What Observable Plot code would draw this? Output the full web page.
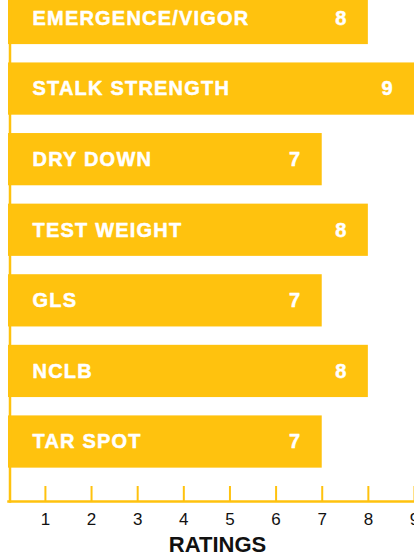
<!DOCTYPE html>
<html>
<head>
<meta charset="utf-8">
<script src="https://cdn.jsdelivr.net/npm/d3@7"></script>
<script src="https://cdn.jsdelivr.net/npm/@observablehq/plot@0.6"></script>
<style>
  html, body { margin: 0; padding: 0; background: #fff; }
</style>
</head>
<body>
<div id="chart"></div>
<script>
const categories = ["EMERGENCE/VIGOR", "STALK STRENGTH", "DRY DOWN", "TEST WEIGHT", "GLS", "NCLB", "TAR SPOT"];
const ratings = [8, 9, 7, 8, 7, 8, 7];
const tickValues = [1, 2, 3, 4, 5, 6, 7, 8, 9];
const axisTitle = "RATINGS";

const data = categories.map((trait, i) => ({trait, rating: ratings[i]}));
const yellow = "#FFC20E";

const chart = Plot.plot({
  width: 414,
  height: 556,
  marginLeft: 8,
  marginRight: 0,
  marginTop: 0,
  marginBottom: 55,
  style: {fontFamily: "'Liberation Sans', Arial, sans-serif", background: "#fff", color: "#000"},
  x: {domain: [0.2, 9], range: [8, 414], axis: null},
  y: {domain: categories, range: [-26.5, 486], padding: 0.26, round: false, axis: null},
  marks: [
    Plot.barX(data, {x: "rating", y: "trait", fill: yellow, clip: true}),
    Plot.frame({anchor: "left", stroke: yellow, strokeWidth: 2.5, dx: 1.5}),
    Plot.frame({anchor: "bottom", stroke: yellow, strokeWidth: 2.5}),
    Plot.axisX(tickValues, {anchor: "bottom", tickSize: -15, tickPadding: 26, stroke: yellow, strokeWidth: 2, fill: "#111", fontSize: 17, label: null}),
    Plot.text(data, {y: "trait", text: "trait", frameAnchor: "left", textAnchor: "start", dx: 24, fill: "#fff", stroke: "#fff", strokeWidth: 0.5, fontWeight: "bold", fontSize: 20}),
    Plot.text(data, {x: "rating", y: "trait", text: d => String(d.rating), textAnchor: "end", dx: -22, fill: "#fff", stroke: "#fff", strokeWidth: 0.5, fontWeight: "bold", fontSize: 20}),
    Plot.text([axisTitle], {text: d => d, frameAnchor: "bottom", dy: 43, dx: 6, lineAnchor: "middle", fontWeight: "bold", fontSize: 22, fill: "#111"})
  ]
});
d3.select(chart).selectAll("text")
  .filter(function () { return categories.includes(this.textContent); })
  .style("letter-spacing", "1.2px");
document.getElementById("chart").appendChild(chart);
</script>
</body>
</html>
